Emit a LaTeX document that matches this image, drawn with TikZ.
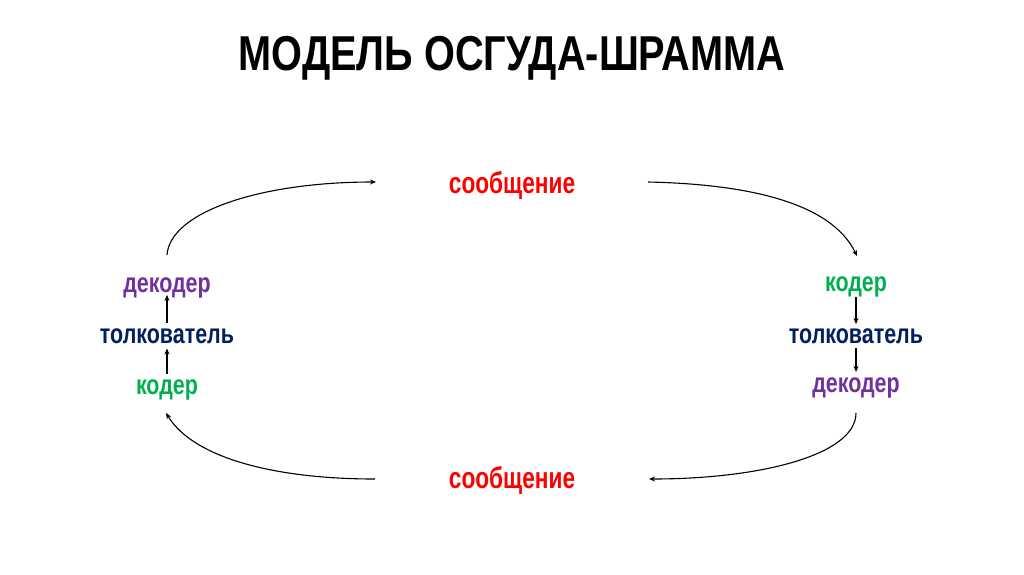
\documentclass[tikz,border=0pt]{standalone}
\usepackage{fontspec}
\setmainfont{Liberation Sans}
\newfontfamily\titlefont[FakeStretch=0.81]{Liberation Sans}
\newfontfamily\msgfont[FakeStretch=0.755]{Liberation Sans}
\newfontfamily\lblfont[FakeStretch=0.78]{Liberation Sans}
\usetikzlibrary{arrows.meta}
\definecolor{msgred}{HTML}{FF0000}
\definecolor{decpurple}{HTML}{7030A0}
\definecolor{intnavy}{HTML}{002060}
\definecolor{codgreen}{HTML}{00B050}
\tikzset{
  lbl/.style={inner sep=0pt, anchor=base, font=\lblfont\fontsize{27.5}{30}\selectfont\bfseries},
  msg/.style={inner sep=0pt, anchor=base, text=msgred, font=\msgfont\fontsize{30}{32}\selectfont\bfseries},
  dec/.style={lbl, text=decpurple},
  intp/.style={lbl, text=intnavy},
  cod/.style={lbl, text=codgreen},
  arc/.style={line width=1.1pt, -{Stealth[length=6pt,width=5pt]}},
  small/.style={line width=1.1pt, -{Stealth[length=6pt,width=5pt]}}
}
\begin{document}
\begin{tikzpicture}[x=1pt,y=-1pt]
\useasboundingbox[fill=white] (0,0) rectangle (1024,574);
\node[inner sep=0pt, anchor=base, font=\titlefont\fontsize{49}{52}\selectfont\bfseries] (title) at (512,70) {МОДЕЛЬ ОСГУДА-ШРАММА};
\node[msg] (m1) at (512,193) {сообщение};
\node[msg] (m2) at (512,488) {сообщение};
\node[dec] (ld) at (167,292) {декодер};
\node[intp] (li) at (167,343) {толкователь};
\node[cod] (lc) at (167,394) {кодер};
\node[cod] (rc) at (856,291) {кодер};
\node[intp] (ri) at (856,343) {толкователь};
\node[dec] (rd) at (856,392) {декодер};
\coordinate (tlS) at (167,255);
\coordinate (tlE) at (376,182);
\coordinate (trS) at (648,182);
\coordinate (trE) at (857,256);
\coordinate (brS) at (856,413);
\coordinate (brE) at (649,479);
\coordinate (blS) at (375,479);
\coordinate (blE) at (166,413);
\draw[arc] (tlS) .. controls (170,212) and (260,182) .. (tlE);
\draw[arc] (trS) .. controls (740,184) and (830,200) .. (trE);
\draw[arc] (brS) .. controls (856,455) and (760,479) .. (brE);
\draw[arc] (blS) .. controls (280,479) and (195,460) .. (blE);
\draw[small] ([yshift=5pt]li.north) -- ([yshift=3pt]ld.south);
\draw[small] ([yshift=5pt]lc.north) -- ([yshift=-5pt]li.south);
\draw[small] (rc.south) -- ([yshift=4pt]ri.north);
\draw[small] ([yshift=-5pt]ri.south) -- ([yshift=5pt]rd.north);
\end{tikzpicture}
\end{document}
